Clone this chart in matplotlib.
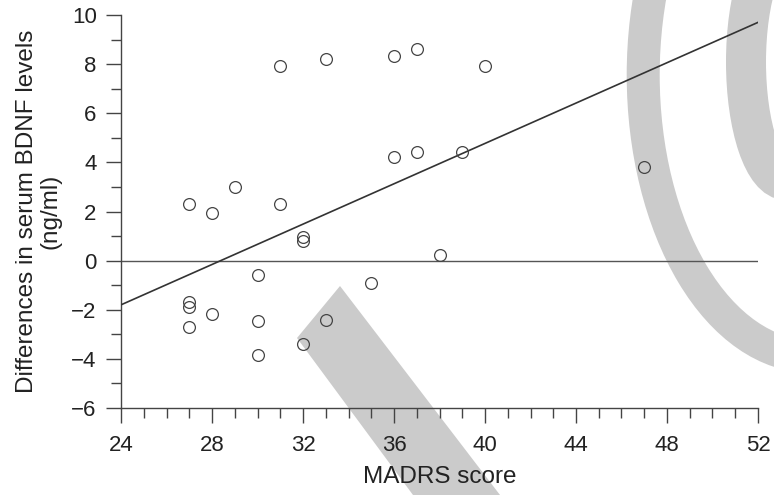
import matplotlib
matplotlib.use("Agg")
import matplotlib.pyplot as plt
from matplotlib.patches import Polygon, Ellipse
from matplotlib.ticker import MultipleLocator

# MADRS score vs. change in serum BDNF (ng/ml)
madrs = [27, 28, 29, 31, 33, 36, 31, 32, 32, 37, 40, 36, 37, 39, 47,
         38, 30, 35, 27, 27, 28, 27, 30, 33, 32, 30]
bdnf_diff = [2.31, 1.95, 2.98, 7.94, 8.22, 8.33, 2.32, 0.95, 0.81, 8.62,
             7.94, 4.20, 4.41, 4.41, 3.81, 0.23, -0.59, -0.90, -1.67,
             -1.88, -2.17, -2.70, -2.47, -2.41, -3.38, -3.84]

# regression line end points
fit_x = [24, 52]
fit_y = [-1.8, 9.7]

x_ticks = [24, 28, 32, 36, 40, 44, 48, 52]
y_ticks = [-6, -4, -2, 0, 2, 4, 6, 8, 10]

W, H = 774, 495
plt.rcParams["font.family"] = ["Liberation Sans", "DejaVu Sans"]

fig = plt.figure(figsize=(W / 100, H / 100), dpi=100, facecolor="white")
ax = fig.add_axes([121 / W, 87 / H, 637 / W, 393 / H])
ax.set_facecolor("none")


def px(x, y):
    # pixel position (from top-left) -> figure fraction
    return (x / W, 1 - y / H)


# grey background shapes
shade = "#cbcbcb"
band = Polygon([px(297, 338), px(340, 286), px(500, 495), px(413, 495)],
               closed=True, transform=fig.transFigure, facecolor=shade,
               edgecolor="none", zorder=-5)
fig.add_artist(band)

outer_ring = Ellipse(px(811.7, 75), 337 / W, 563 / H, transform=fig.transFigure,
                     fill=False, edgecolor=shade, linewidth=33 * 0.72, zorder=-5)
fig.add_artist(outer_ring)

inner_ring = Ellipse(px(786, 62), 80 / W, 236 / H, transform=fig.transFigure,
                     fill=False, edgecolor=shade, linewidth=40 * 0.72, zorder=-5)
fig.add_artist(inner_ring)

# data
ax.plot(fit_x, fit_y, color="#333333", linewidth=1.2, zorder=3)
ax.plot([24, 52], [0, 0], color="#555555", linewidth=1.0, zorder=2)
ax.plot(madrs, bdnf_diff, linestyle="none", marker="o", markersize=8.5,
        markerfacecolor="none", markeredgecolor="#444444",
        markeredgewidth=0.9, zorder=4)

ax.set_xlim(24, 52)
ax.set_ylim(-6, 10)
ax.set_xticks(x_ticks)
ax.set_yticks(y_ticks)
ax.xaxis.set_minor_locator(MultipleLocator(1))
ax.yaxis.set_minor_locator(MultipleLocator(1))

for side in ["top", "right"]:
    ax.spines[side].set_visible(False)
for side in ["left", "bottom"]:
    ax.spines[side].set_color("#444444")
    ax.spines[side].set_linewidth(1.0)

ax.tick_params(which="major", direction="out", length=10.5, width=1.0,
               color="#444444", labelsize=16, labelcolor="#222222")
ax.tick_params(which="minor", direction="out", length=7, width=1.0,
               color="#444444")
ax.tick_params(axis="x", which="major", pad=9)
ax.tick_params(axis="y", which="major", pad=7)

ax.set_xlabel("MADRS score", fontsize=17.5, color="#222222", labelpad=7)
ax.set_ylabel("Differences in serum BDNF levels\n(ng/ml)", fontsize=17.5,
              color="#222222", labelpad=7, linespacing=1.1)

fig.savefig("out.png", dpi=100, facecolor="white")
